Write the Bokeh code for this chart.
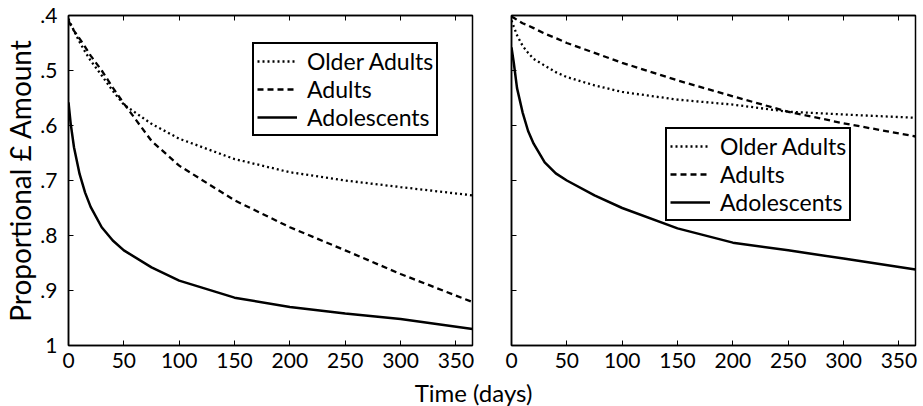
from bokeh.plotting import figure
from bokeh.models import Range1d, FixedTicker, LinearAxis, Label, CustomLabelingPolicy
from bokeh.layouts import row, column
from bokeh.embed import file_html
from bokeh.resources import INLINE

# ---------------- data ----------------
days = [0, 2, 5, 10, 15, 20, 30, 40, 50, 75, 100, 150, 200, 250, 300, 365]

# left panel
left_older = [0.406, 0.415, 0.428, 0.448, 0.466, 0.482, 0.509, 0.537, 0.562, 0.597, 0.624, 0.661, 0.685, 0.700, 0.712, 0.727]
left_adults = [0.409, 0.418, 0.428, 0.442, 0.457, 0.473, 0.500, 0.531, 0.560, 0.628, 0.673, 0.736, 0.785, 0.827, 0.870, 0.921]
left_adolescents = [0.558, 0.597, 0.640, 0.688, 0.722, 0.748, 0.785, 0.809, 0.827, 0.858, 0.882, 0.913, 0.930, 0.942, 0.952, 0.970]

# right panel
right_older = [0.409, 0.420, 0.436, 0.455, 0.468, 0.479, 0.491, 0.503, 0.512, 0.527, 0.539, 0.553, 0.562, 0.575, 0.580, 0.586]
right_adults = [0.402, 0.404, 0.408, 0.414, 0.418, 0.423, 0.433, 0.441, 0.450, 0.468, 0.486, 0.518, 0.547, 0.575, 0.596, 0.620]
right_adolescents = [0.458, 0.485, 0.532, 0.576, 0.610, 0.633, 0.667, 0.687, 0.700, 0.727, 0.750, 0.787, 0.813, 0.827, 0.842, 0.862]

series_names = ["Older Adults", "Adults", "Adolescents"]
x_ticks = [0, 50, 100, 150, 200, 250, 300, 350]
y_ticks = [0.4, 0.5, 0.6, 0.7, 0.8, 0.9, 1.0]
y_tick_labels = [".4", ".5", ".6", ".7", ".8", ".9", "1"]
x_label = "Time (days)"
y_label = "Proportional £ Amount"

# ---------------- style ----------------
FONT = "Lato"
styles = [
    dict(line_dash="2 3", line_width=2.3),
    dict(line_dash="6 4", line_width=2.3),
    dict(line_dash="solid", line_width=2.5),
]

NO_LABELS = "const a = [...indices]; for (const i of a) { indices.unset(i) }; return indices"


def tick_only(axis):
    axis.major_label_policy = CustomLabelingPolicy(code=NO_LABELS)
    axis.major_label_text_font_size = "1px"
    axis.major_label_standoff = 0


def make_panel(series, show_ylabels, border_left, border_right, legend_loc):
    p = figure(frame_width=404, frame_height=330,
               output_backend="svg", toolbar_location=None,
               x_range=Range1d(0, 365), y_range=Range1d(1.0, 0.4),
               min_border_left=border_left, min_border_right=border_right,
               min_border_top=15, min_border_bottom=32)
    p.xgrid.visible = False
    p.ygrid.visible = False
    p.outline_line_color = "black"
    p.outline_line_alpha = 1
    p.outline_line_width = 1.5
    p.background_fill_color = "white"
    p.border_fill_color = "white"

    xa = p.xaxis[0]
    xa.ticker = FixedTicker(ticks=x_ticks)
    xa.major_tick_in = 5
    xa.major_tick_out = 0
    xa.minor_tick_line_color = None
    xa.axis_line_width = 1.5
    xa.axis_line_color = "black"
    xa.major_tick_line_color = "black"
    xa.major_label_text_font = FONT
    xa.major_label_text_font_size = "21px"
    xa.major_label_text_color = "black"
    xa.major_label_standoff = 7

    ya = p.yaxis[0]
    ya.ticker = FixedTicker(ticks=y_ticks)
    ya.major_tick_in = 5
    ya.major_tick_out = 0
    ya.minor_tick_line_color = None
    ya.axis_line_width = 1.5
    ya.axis_line_color = "black"
    ya.major_tick_line_color = "black"
    if show_ylabels:
        ya.major_label_overrides = dict(zip(y_ticks, y_tick_labels))
        ya.major_label_text_font = FONT
        ya.major_label_text_font_size = "21px"
        ya.major_label_text_color = "black"
        ya.major_label_standoff = 11
        ya.axis_label = y_label
        ya.axis_label_text_font = FONT
        ya.axis_label_text_font_size = "28px"
        ya.axis_label_text_font_style = "normal"
        ya.axis_label_text_color = "black"
        ya.axis_label_standoff = 0
    else:
        tick_only(ya)

    top = LinearAxis(ticker=FixedTicker(ticks=x_ticks), major_tick_in=5, major_tick_out=0,
                     minor_tick_line_color=None, axis_line_width=1.5,
                     axis_line_color="black", major_tick_line_color="black")
    tick_only(top)
    p.add_layout(top, "above")

    for name, ys, st in zip(series_names, series, styles):
        p.line(days, ys, color="black", legend_label=name, line_cap="butt", **st)

    lg = p.legend[0]
    lg.location = legend_loc
    lg.border_line_color = "black"
    lg.border_line_alpha = 1
    lg.border_line_width = 2
    lg.background_fill_color = "white"
    lg.background_fill_alpha = 1
    lg.label_text_font = FONT
    lg.label_text_font_size = "23px"
    lg.label_text_line_height = 1.0
    lg.label_text_color = "black"
    lg.glyph_width = 40
    lg.glyph_height = 20
    lg.label_standoff = 10
    lg.label_height = 24
    lg.padding = 3
    lg.spacing = 0
    lg.margin = 0
    return p


p1 = make_panel([left_older, left_adults, left_adolescents], True, 65, 20, (184, 209))
p2 = make_panel([right_older, right_adults, right_adolescents], False, 19, 11, (154, 124))

p3 = figure(width=923, height=29, output_backend="svg", toolbar_location=None,
            x_axis_location=None, y_axis_location=None, min_border=0,
            x_range=Range1d(0, 1), y_range=Range1d(0, 1))
p3.outline_line_color = None
p3.grid.visible = False
p3.add_layout(Label(x=473, y=14, x_units="screen", y_units="screen", text=x_label,
                    text_align="center", text_baseline="middle", text_line_height=1.0,
                    text_font=FONT, text_font_size="24px", text_color="black"))

layout = column(row(p1, p2), p3)

open("out.html", "w").write(file_html(layout, INLINE))
